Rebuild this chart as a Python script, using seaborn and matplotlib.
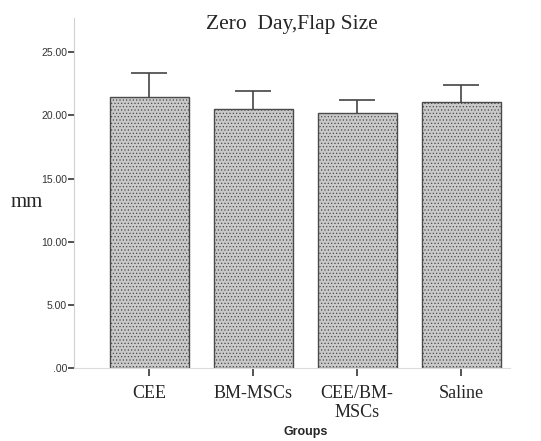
import numpy as np
import pandas as pd
import seaborn as sns
import matplotlib.pyplot as plt

# Values
groups = ['CEE', 'BM-MSCs', 'CEE/BM-\nMSCs', 'Saline']
means = [21.45, 20.48, 20.15, 21.05]
upper_err = [1.88, 1.45, 1.05, 1.32]
y_ticks = [0, 5, 10, 15, 20, 25]
y_tick_labels = ['.00', '5.00', '10.00', '15.00', '20.00', '25.00']

df = pd.DataFrame({'Groups': groups, 'mm': means})

sns.set_style('white')
plt.rcParams['hatch.color'] = '#a0a0a0'
plt.rcParams['hatch.linewidth'] = 0.5
fig = plt.figure(figsize=(5.41, 4.41), dpi=100)
ax = fig.add_axes([0.137, 0.1655, 0.806, 0.7935])

sns.barplot(data=df, x='Groups', y='mm', color='#c8c8c8', errorbar=None,
            width=0.76, edgecolor='#4a4a4a', linewidth=1.0, saturation=1, ax=ax)
for bar in ax.patches:
    bar.set_hatch('.....')
    bar.set_facecolor('#c9c9c9')

# upper error bars only
eb = ax.errorbar(range(len(groups)), means, yerr=[np.zeros(len(means)), upper_err],
                 fmt='none', ecolor='#444444', elinewidth=1.2, capsize=13, capthick=1.2)
eb[1][0].set_visible(False)

ax.set_ylim(0, 27.7)
ax.set_xlim(-0.72, 3.47)
ax.set_yticks(y_ticks)
ax.set_yticklabels(y_tick_labels, fontsize=7.5, color='#333333', family='Liberation Sans')
ax.tick_params(axis='y', direction='out', length=4, width=1.2, color='#333333', left=True, pad=1)
ax.tick_params(axis='x', direction='out', length=6, width=1.2, color='#333333', bottom=True, pad=6)
for lab in ax.get_xticklabels():
    lab.set_family('Liberation Serif')
    lab.set_fontsize(13)

for s in ['top', 'right']:
    ax.spines[s].set_visible(False)
ax.spines['left'].set_color('#d0d0d0')
ax.spines['bottom'].set_color('#dcdcdc')

ax.set_xlabel('Groups', fontsize=9, fontweight='bold', family='Liberation Sans', va='center')
ax.xaxis.set_label_coords(0.53, -0.183)
ax.set_ylabel('mm', fontsize=15, family='Liberation Serif', rotation=0, va='center', ha='center')
ax.yaxis.set_label_coords(-0.108, 0.474)
ax.set_title('Zero  Day,Flap Size', fontsize=15.5, family='Liberation Serif', pad=-8)

fig.savefig('out.png', dpi=100)
